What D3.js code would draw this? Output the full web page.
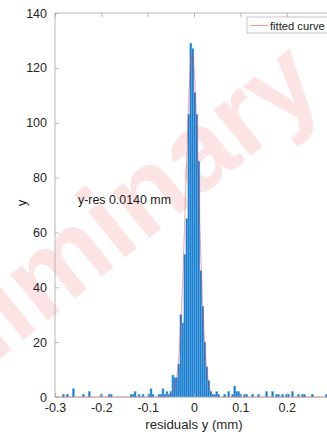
<!DOCTYPE html>
<html>
<head>
<meta charset="utf-8">
<script src="https://cdn.jsdelivr.net/npm/d3@7"></script>
<style>
  html, body { margin: 0; padding: 0; background: #fff; }
  svg { display: block; }
  text { font-family: "Liberation Sans", Arial, Helvetica, sans-serif; }
</style>
</head>
<body>
<svg id="chart" width="327" height="435"></svg>
<script>
// Histogram of y residuals (mm): bin index k covers [origin + k*width, origin + (k+1)*width]
const binWidth = 0.0043;
const binOrigin = -0.0003;
const binIndex = [-66, -64, -61, -56, -53, -47, -43, -42, -32, -31, -30, -28, -26, -23, -22, -21,
  -18, -17, -16, -15, -14, -13, -12, -11, -10, -9, -8, -7, -6, -5, -4, -3, -2, -1,
  0, 1, 2, 3, 4, 5, 6, 7, 8, 9, 10, 11, 12, 15, 17, 19, 20, 21, 22, 23, 25, 26, 29,
  32, 36, 39, 41, 42, 44, 46, 47, 49, 52, 54, 55, 59, 66];
const binCount = [1, 1, 3, 1, 2, 1, 1, 1, 1, 1, 2, 1, 1, 1, 3, 1,
  1, 1, 3, 1, 2, 1, 2, 8, 7, 7, 12, 30, 27, 52, 65, 103, 129, 127,
  111, 103, 86, 46, 33, 20, 11, 6, 2, 1, 1, 2, 1, 1, 2, 1, 4, 2, 2, 1, 1, 1, 1,
  1, 2, 2, 1, 1, 1, 1, 1, 2, 1, 1, 1, 1, 1];

// Gaussian fit parameters
const fitAmplitude = 125;
const fitMean = -0.0039;
const fitSigma = 0.0140;

// Axis ticks (the 0.3 tick sits at the right border, its label falls outside the canvas)
const xTicks = [-0.3, -0.2, -0.1, 0, 0.1, 0.2, 0.3];
const xLabelTicks = [-0.3, -0.2, -0.1, 0, 0.1, 0.2];
const xTickLabels = ["-0.3", "-0.2", "-0.1", "0", "0.1", "0.2"];
const yTicks = [0, 20, 40, 60, 80, 100, 120, 140];

const svg = d3.select("#chart");
const plotLeft = 55, plotRight = 333, plotTop = 13, plotBottom = 397;

const x = d3.scaleLinear().domain([-0.3, 0.3]).range([plotLeft, plotRight]);
const y = d3.scaleLinear().domain([0, 140]).range([plotBottom, plotTop]);

// Watermark
svg.append("text")
  .attr("transform", "translate(90,286) rotate(-39)")
  .attr("text-anchor", "middle")
  .attr("font-size", 112)
  .attr("font-weight", "bold")
  .attr("fill", "#fce4e4")
  .text("Preliminary");

// Bars
const bins = binIndex.map((k, i) => ({ x0: binOrigin + k * binWidth, x1: binOrigin + (k + 1) * binWidth, n: binCount[i] }));
svg.append("g").selectAll("rect").data(bins).join("rect")
  .attr("x", d => x(d.x0))
  .attr("width", d => x(d.x1) - x(d.x0))
  .attr("y", d => y(d.n))
  .attr("height", d => y(0) - y(d.n))
  .attr("fill", "#1877c8")
  .attr("stroke", "#5fb5ef")
  .attr("stroke-width", 0.5);

// Fitted curve
const curveX = d3.range(-0.3, 0.3001, 0.0005);
const gauss = v => fitAmplitude * Math.exp(-((v - fitMean) ** 2) / (2 * fitSigma * fitSigma));
svg.append("path")
  .datum(curveX)
  .attr("fill", "none")
  .attr("stroke", "#ff3030")
  .attr("stroke-opacity", 0.45)
  .attr("stroke-width", 1)
  .attr("d", d3.line().x(d => x(d)).y(d => y(gauss(d))));

// Axes (box with inward ticks)
const axisColor = "#a8a8a8";
const tickLen = 4;
svg.append("rect").attr("x", plotLeft).attr("y", plotTop)
  .attr("width", plotRight - plotLeft).attr("height", plotBottom - plotTop)
  .attr("fill", "none").attr("stroke", axisColor).attr("stroke-width", 0.8);

const xAxisB = d3.axisBottom(x).tickValues(xLabelTicks).tickSizeInner(-tickLen).tickSizeOuter(0)
  .tickFormat((d, i) => xTickLabels[i]).tickPadding(6);
const xb = svg.append("g").attr("transform", `translate(0,${plotBottom})`).call(xAxisB);
const xAxisT = d3.axisTop(x).tickValues(xTicks).tickSizeInner(-tickLen).tickSizeOuter(0).tickFormat("");
const xt = svg.append("g").attr("transform", `translate(0,${plotTop})`).call(xAxisT);
const yAxisL = d3.axisLeft(y).tickValues(yTicks).tickSizeInner(-tickLen).tickSizeOuter(0).tickPadding(8);
const yl = svg.append("g").attr("transform", `translate(${plotLeft},0)`).call(yAxisL);

[xb, xt, yl].forEach(a => {
  a.select(".domain").remove();
  a.selectAll(".tick line").attr("stroke", axisColor).attr("stroke-width", 0.8);
  a.selectAll(".tick text").attr("fill", "#262626").attr("font-size", 12.5)
    .attr("font-family", "'Liberation Sans', Arial, Helvetica, sans-serif");
});

// Axis labels
svg.append("text").attr("x", x(0)).attr("y", 429).attr("text-anchor", "middle")
  .attr("font-size", 13.2).attr("fill", "#262626").text("residuals y (mm)");
svg.append("text").attr("transform", "translate(26,203) rotate(-90)").attr("text-anchor", "middle")
  .attr("font-size", 13.2).attr("fill", "#262626").text("y");

// Annotation
svg.append("text").attr("x", 78).attr("y", 203.5)
  .attr("font-size", 12.4).attr("fill", "#1a1a1a").text("y-res 0.0140 mm");

// Legend
const lg = svg.append("g");
lg.append("rect").attr("x", 247).attr("y", 17).attr("width", 84).attr("height", 16)
  .attr("fill", "#fff").attr("stroke", "#b8b8b8").attr("stroke-width", 0.8);
lg.append("line").attr("x1", 250).attr("x2", 268).attr("y1", 25.5).attr("y2", 25.5)
  .attr("stroke", "#ff3030").attr("stroke-opacity", 0.5).attr("stroke-width", 1);
lg.append("text").attr("x", 270).attr("y", 29.5).attr("font-size", 11.2).attr("fill", "#1a1a1a").text("fitted curve");
</script>
</body>
</html>
